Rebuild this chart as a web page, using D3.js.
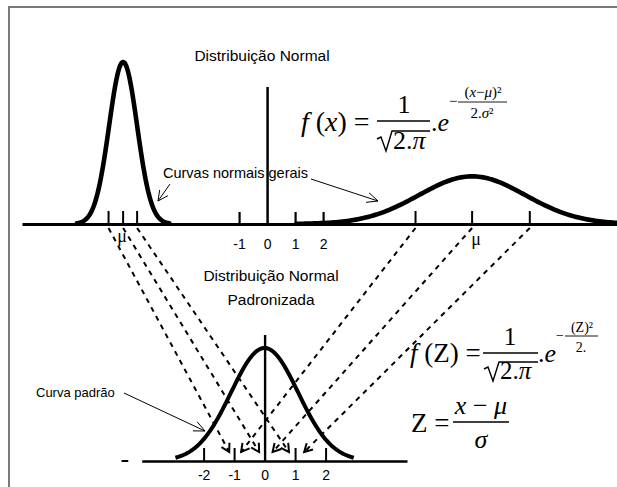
<!DOCTYPE html>
<html>
<head>
<meta charset="utf-8">
<script src="https://cdn.jsdelivr.net/npm/d3@7/dist/d3.min.js"></script>
<style>
  html, body { margin: 0; padding: 0; background: #fff; overflow: hidden; }
  svg { display: block; overflow: hidden; }
</style>
</head>
<body>
<svg id="chart" width="617" height="487"></svg>
<script>
// ---- top panel: general normal curves on a shared x axis ----
const topTickValues = [-1, 0, 1, 2];
const topTickLabels = ["-1", "0", "1", "2"];
const curveNames  = ["estreita", "larga"];
const curveMeans  = [-5.14, 7.32];
const curveSigmas = [0.5, 1.9];
const curvePeaks  = [0.85, 0.25];
// μ−σ, μ, μ+σ marks of each general curve
const narrowMarks = [-5.66, -5.14, -4.64];
const wideMarks   = [5.3, 7.32, 9.38];

// ---- bottom panel: standard normal curve ----
const stdTickValues = [-2, -1, 0, 1, 2];
const stdTickLabels = ["-2", "-1", "0", "1", "2"];
const stdMean = 0, stdSpread = 1.1, stdPeak = 0.4;
// z value each mark is carried to
const zTargets = [-1, 0, 1];

const SANS = "'Liberation Sans', Arial, sans-serif";
const SERIF = "'Liberation Serif', 'Times New Roman', serif";

const svg = d3.select("#chart");

// frame (open to the right and bottom)
svg.append("path")
  .attr("d", "M9,700V7H700")
  .attr("fill", "none").attr("stroke", "#7a7a7a").attr("stroke-width", 2);

// scales
const xTop = d3.scaleLinear().domain([-8.75, 12.85]).range([22, 627]);
const yTop = d3.scaleLinear().domain([0, 0.85]).range([224, 62]);
const xBot = d3.scaleLinear().domain([-4.03, 4.67]).range([141.7, 407]);
const yBot = d3.scaleLinear().domain([0, 0.4]).range([461, 348]);

function bell(mu, sigma, peak, k) {
  const lo = mu - k * sigma, hi = mu + k * sigma, n = 160;
  return d3.range(n + 1).map(i => {
    const x = lo + (hi - lo) * i / n;
    const z = (x - mu) / sigma;
    return [x, peak * Math.exp(-0.5 * z * z)];
  });
}

// open arrow head at (x2,y2) pointing along (x1,y1)->(x2,y2)
function arrowHead(g, x1, y1, x2, y2, len, half, width) {
  const a = Math.atan2(y2 - y1, x2 - x1);
  const p = s => [x2 - len * Math.cos(a) + s * half * Math.sin(a),
                  y2 - len * Math.sin(a) - s * half * Math.cos(a)];
  const [ax, ay] = p(1), [bx, by] = p(-1);
  g.append("path")
    .attr("d", `M${ax},${ay}L${x2},${y2}L${bx},${by}`)
    .attr("fill", "none").attr("stroke", "#000").attr("stroke-width", width);
}

// ---- top axis ----
const gTop = svg.append("g")
  .attr("transform", `translate(0,${yTop(0)})`)
  .call(d3.axisBottom(xTop)
    .tickValues(topTickValues)
    .tickFormat((d, i) => topTickLabels[i])
    .tickSizeInner(-12).tickSizeOuter(0).tickPadding(15))
  .attr("font-family", SANS).attr("font-size", 14);
gTop.select(".domain").attr("stroke-width", 3);
gTop.selectAll(".tick line").attr("stroke-width", 2.2);
gTop.selectAll(".tick").filter(d => d === 0).select("line").attr("y2", -137).attr("stroke-width", 2.5);
gTop.selectAll(".tick text").attr("fill", "#000");

// μ−σ, μ, μ+σ marks
const topMarks = [narrowMarks, wideMarks];
topMarks.forEach(marks => {
  svg.append("g").selectAll("line").data(marks).join("line")
    .attr("x1", d => xTop(d)).attr("x2", d => xTop(d))
    .attr("y1", yTop(0)).attr("y2", yTop(0) - 13)
    .attr("stroke", "#000").attr("stroke-width", 2);
});

// general curves
const lineTop = d3.line().x(d => xTop(d[0])).y(d => yTop(d[1]));
curveNames.forEach((name, i) => {
  svg.append("path")
    .attr("class", "curve " + name)
    .attr("d", lineTop(bell(curveMeans[i], curveSigmas[i], curvePeaks[i], 3.3)))
    .attr("fill", "none").attr("stroke", "#000")
    .attr("stroke-width", 4.6).attr("stroke-linecap", "round").attr("stroke-linejoin", "round");
});

// μ labels
curveMeans.forEach((mu, i) => {
  svg.append("text")
    .attr("x", xTop(mu) + (i === 0 ? -1 : 4)).attr("y", i === 0 ? 242 : 245)
    .attr("text-anchor", "middle")
    .attr("font-family", SERIF).attr("font-size", 18)
    .text("μ");
});

// ---- bottom axis ----
const gBot = svg.append("g")
  .attr("transform", `translate(0,${yBot(0)})`)
  .call(d3.axisBottom(xBot)
    .tickValues(stdTickValues)
    .tickFormat((d, i) => stdTickLabels[i])
    .tickSizeInner(-13).tickSizeOuter(0).tickPadding(9))
  .attr("font-family", SANS).attr("font-size", 14);
gBot.select(".domain").attr("stroke-width", 2.4);
gBot.selectAll(".tick line").attr("stroke-width", 2);
gBot.selectAll(".tick").filter(d => d === 0).select("line").attr("y2", -126).attr("stroke-width", 2.4);
gBot.selectAll(".tick text").attr("fill", "#000");

// short stub left of the bottom axis
svg.append("line")
  .attr("x1", xBot(-4.69)).attr("x2", xBot(-4.47))
  .attr("y1", yBot(0)).attr("y2", yBot(0))
  .attr("stroke", "#000").attr("stroke-width", 2);

// standard curve
const lineBot = d3.line().x(d => xBot(d[0])).y(d => yBot(d[1]));
svg.append("path")
  .attr("class", "curve padrao")
  .attr("d", lineBot(bell(stdMean, stdSpread, stdPeak, 2.6)))
  .attr("fill", "none").attr("stroke", "#000")
  .attr("stroke-width", 4).attr("stroke-linecap", "square").attr("stroke-linejoin", "round");

// ---- dashed connectors: each mark carried to its z value ----
const gDash = svg.append("g");
topMarks.forEach(marks => {
  marks.forEach((m, j) => {
    const x1 = xTop(m), y1 = yTop(0) + 4;
    const xe = xBot(zTargets[j]), ye = yBot(0);
    const yEnd = ye - 9;
    const t = (yEnd - y1) / (ye - y1);
    const x2 = x1 + (xe - x1) * t;
    gDash.append("line")
      .attr("x1", x1).attr("y1", y1).attr("x2", x2).attr("y2", yEnd)
      .attr("stroke", "#000").attr("stroke-width", 2)
      .attr("stroke-dasharray", "5,5");
    arrowHead(gDash, x1, y1, x2, yEnd, 8, 4.5, 2);
  });
});

// ---- titles and notes ----
svg.append("text")
  .attr("x", 262).attr("y", 61).attr("text-anchor", "middle")
  .attr("font-family", SANS).attr("font-size", 15.5)
  .text("Distribuição Normal");
svg.append("text")
  .attr("x", 271).attr("y", 281).attr("text-anchor", "middle")
  .attr("font-family", SANS).attr("font-size", 15.5)
  .text("Distribuição Normal");
svg.append("text")
  .attr("x", 271).attr("y", 305).attr("text-anchor", "middle")
  .attr("font-family", SANS).attr("font-size", 15.5)
  .text("Padronizada");

svg.append("text")
  .attr("x", 163).attr("y", 178)
  .attr("font-family", SANS).attr("font-size", 14.5)
  .text("Curvas normais gerais");
const gNote = svg.append("g");
gNote.append("line").attr("x1", 170).attr("y1", 184).attr("x2", 158).attr("y2", 201)
  .attr("stroke", "#000").attr("stroke-width", 1);
arrowHead(gNote, 170, 184, 158, 201, 10, 5, 1);
gNote.append("line").attr("x1", 311).attr("y1", 179).attr("x2", 378).attr("y2", 201)
  .attr("stroke", "#000").attr("stroke-width", 1);
arrowHead(gNote, 311, 179, 378, 201, 11, 5, 1);

svg.append("text")
  .attr("x", 36).attr("y", 397)
  .attr("font-family", SANS).attr("font-size", 13)
  .text("Curva padrão");
gNote.append("line").attr("x1", 124).attr("y1", 393).attr("x2", 205).attr("y2", 431)
  .attr("stroke", "#000").attr("stroke-width", 1);
arrowHead(gNote, 124, 393, 205, 431, 11, 5, 1);

// ---- formulas ----
const gF = svg.append("g").attr("font-family", SERIF).attr("fill", "#000");

function fracBar(x1, x2, y, w) {
  gF.append("line").attr("x1", x1).attr("x2", x2).attr("y1", y).attr("y2", y)
    .attr("stroke", "#000").attr("stroke-width", w);
}
function radical(x, yTopBar, yBase, x2) {
  gF.append("path")
    .attr("d", `M${x},${yBase - 12}L${x + 4},${yBase - 14}L${x + 9},${yBase}L${x + 15},${yTopBar}L${x2},${yTopBar}`)
    .attr("fill", "none").attr("stroke", "#000").attr("stroke-width", 1.4).attr("stroke-linejoin", "miter");
}

// f(x) = 1/√(2π) · e^{-(x-μ)²/(2σ²)}
let t = gF.append("text").attr("x", 301).attr("y", 131).attr("font-size", 28);
t.append("tspan").attr("font-style", "italic").text("f");
t.append("tspan").text(" (");
t.append("tspan").attr("font-style", "italic").text("x");
t.append("tspan").text(") =");
fracBar(377, 430, 121, 1.3);
gF.append("text").attr("x", 404).attr("y", 113).attr("text-anchor", "middle").attr("font-size", 26).text("1");
radical(377, 131, 151, 430);
t = gF.append("text").attr("x", 393).attr("y", 149).attr("font-size", 26);
t.append("tspan").text("2.");
t.append("tspan").attr("font-style", "italic").text("π");
t = gF.append("text").attr("x", 431).attr("y", 131).attr("font-size", 26);
t.append("tspan").text(".");
t.append("tspan").attr("font-style", "italic").text("e");
gF.append("text").attr("x", 449).attr("y", 106).attr("font-size", 15).text("−");
t = gF.append("text").attr("x", 483).attr("y", 97).attr("text-anchor", "middle").attr("font-size", 15);
t.append("tspan").text("(");
t.append("tspan").attr("font-style", "italic").text("x");
t.append("tspan").text("−");
t.append("tspan").attr("font-style", "italic").text("μ");
t.append("tspan").text(")²");
fracBar(458, 507, 102, 0.9);
t = gF.append("text").attr("x", 482).attr("y", 118).attr("text-anchor", "middle").attr("font-size", 15);
t.append("tspan").text("2.");
t.append("tspan").attr("font-style", "italic").text("σ");
t.append("tspan").text("²");

// f(Z) = 1/√(2π) · e^{-(Z)²/2}
t = gF.append("text").attr("x", 410).attr("y", 362).attr("font-size", 27);
t.append("tspan").attr("font-style", "italic").text("f");
t.append("tspan").text(" (Z) =");
fracBar(483, 538, 353, 1.3);
gF.append("text").attr("x", 510).attr("y", 345).attr("text-anchor", "middle").attr("font-size", 25).text("1");
radical(484, 362, 381, 538);
t = gF.append("text").attr("x", 500).attr("y", 379).attr("font-size", 25);
t.append("tspan").text("2.");
t.append("tspan").attr("font-style", "italic").text("π");
t = gF.append("text").attr("x", 538).attr("y", 362).attr("font-size", 26);
t.append("tspan").text(".");
t.append("tspan").attr("font-style", "italic").text("e");
gF.append("text").attr("x", 556).attr("y", 340).attr("font-size", 14).text("−");
gF.append("text").attr("x", 582).attr("y", 332).attr("text-anchor", "middle").attr("font-size", 14).text("(Z)²");
fracBar(565, 598, 336, 0.9);
gF.append("text").attr("x", 581).attr("y", 352).attr("text-anchor", "middle").attr("font-size", 14).text("2.");

// Z = (x − μ)/σ
gF.append("text").attr("x", 411).attr("y", 432).attr("font-size", 27).text("Z =");
t = gF.append("text").attr("x", 481).attr("y", 414).attr("text-anchor", "middle").attr("font-size", 26);
t.append("tspan").attr("font-style", "italic").text("x");
t.append("tspan").text(" − ");
t.append("tspan").attr("font-style", "italic").text("μ");
fracBar(453, 509, 422, 1.3);
gF.append("text").attr("x", 481).attr("y", 448).attr("text-anchor", "middle").attr("font-size", 26)
  .attr("font-style", "italic").text("σ");
</script>
</body>
</html>
